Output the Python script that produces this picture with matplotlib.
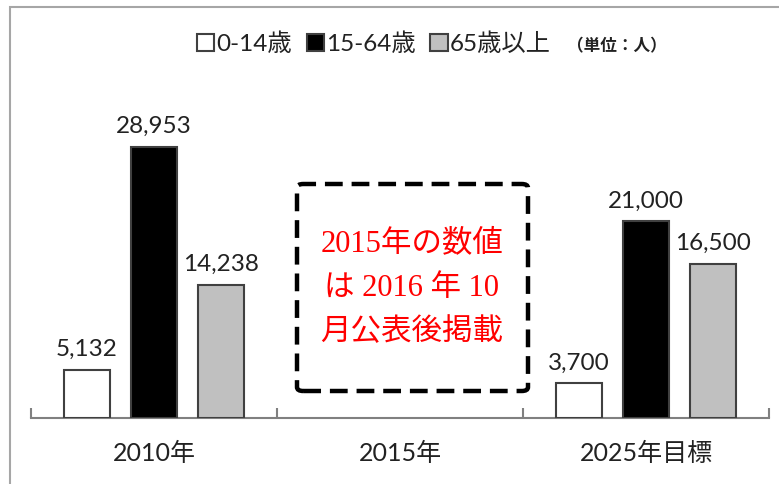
import numpy as np
import matplotlib.pyplot as plt
from matplotlib.patches import Rectangle, FancyBboxPatch

# データ
years = ['2010年', '2015年', '2025年目標']
age_0_14 = [5132, np.nan, 3700]
age_15_64 = [28953, np.nan, 21000]
age_65 = [14238, np.nan, 16500]
series_names = ['0-14歳', '15-64歳', '65歳以上']
note_lines = ['2015年の数値', 'は 2016 年 10', '月公表後掲載']

num_font = ['Lato', 'Noto Sans CJK JP']
serif_font = ['Liberation Serif', 'Noto Sans CJK JP']

W, H = 779, 484
fig = plt.figure(figsize=(W / 100, H / 100), dpi=100)

# 外枠
fig.patches.append(Rectangle((10 / W, -0.1), 2, 1 - 7 / H + 0.1, transform=fig.transFigure,
                             fill=False, edgecolor='#a6a6a6', linewidth=1.5))

ax = fig.add_axes([31 / W, (H - 418) / H, 738 / W, 374.5 / H])

x = np.arange(len(years))
bw = 0.187
off = 0.274
colors = ['white', 'black', '#c0c0c0']
all_series = [age_0_14, age_15_64, age_65]

for i, (vals, c) in enumerate(zip(all_series, colors)):
    pos = x + (i - 1) * off
    ax.bar(pos, vals, width=bw, color=c, edgecolor='#404040', linewidth=1.5,
           label=series_names[i], zorder=3)
    for px, v in zip(pos, vals):
        if np.isfinite(v):
            ax.annotate(f'{v:,.0f}', (px, v), xytext=(0, 7), textcoords='offset points',
                        ha='center', va='bottom', fontsize=17.5, family=num_font, color='#222222')

ax.set_xlim(-0.5, 2.5)
ax.set_ylim(0, 40000)
for s in ['top', 'right', 'left']:
    ax.spines[s].set_visible(False)
ax.spines['bottom'].set_color('#808080')
ax.spines['bottom'].set_linewidth(1.5)
ax.set_yticks([])
ax.set_xticks(x)
ax.set_xticklabels(years, fontsize=18, family=num_font, color='#222222')
ax.tick_params(axis='x', which='major', length=0, pad=17)
ax.set_xticks([-0.5, 0.5, 1.5, 2.5], minor=True)
ax.tick_params(axis='x', which='minor', direction='in', length=7, width=1.5, color='#808080')

# 2015年の注記
box = FancyBboxPatch((297 / W, 1 - 391 / H), 231 / W, 207 / H, boxstyle='round,pad=0,rounding_size=0.008',
                     transform=fig.transFigure, fill=False, edgecolor='black', linewidth=3.2,
                     linestyle=(0, (4, 2)))
fig.patches.append(box)
for k, line in enumerate(note_lines):
    fig.text(412 / W, 1 - (245 + 44 * k) / H, line, ha='center', va='center',
             fontsize=22, family=serif_font, color='red')

leg = ax.legend(loc='center left', bbox_to_anchor=(197 / W, 1 - 44 / H), bbox_transform=fig.transFigure,
                ncol=3, frameon=False, borderpad=0, borderaxespad=0, handlelength=0.72, handleheight=0.72,
                handletextpad=0.08, columnspacing=0.6, prop={'family': num_font, 'size': 17.5})
for t in leg.get_texts():
    t.set_color('#222222')
fig.text(567 / W, 1 - 46 / H, '（単位：人）', ha='left', va='center', fontsize=12,
         family=['Noto Sans CJK JP'], fontweight='bold', color='#222222')

fig.savefig('out.png', dpi=100)
